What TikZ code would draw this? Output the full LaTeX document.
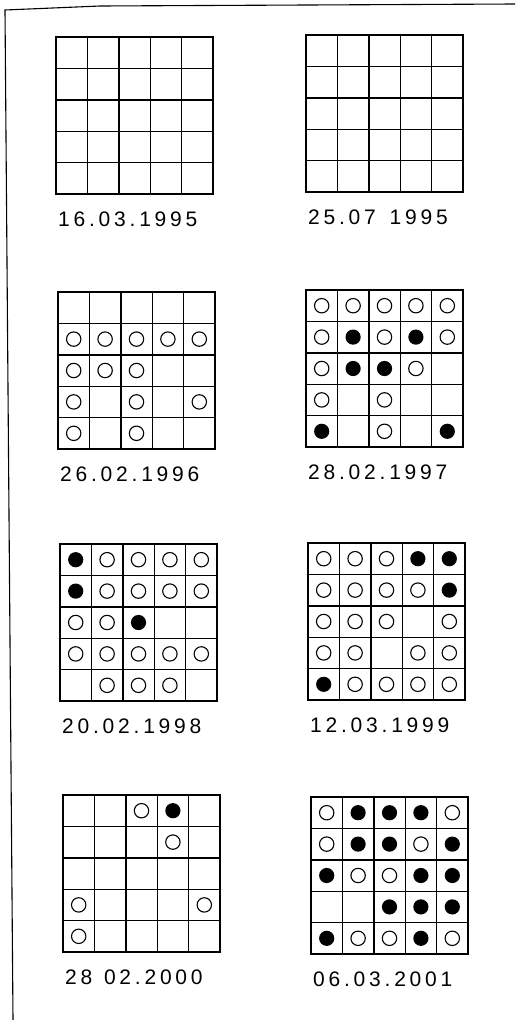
\documentclass[tikz,border=0pt]{standalone}
\usepackage{fontspec}
\setmainfont{Liberation Sans}
\newfontfamily\datefont[LetterSpace=18]{Liberation Sans}
\tikzset{
  gridline/.style={line width=1.4pt, line cap=rect},
  opencirc/.style={line width=1.1pt},
  fillcirc/.style={fill=black},
  datelabel/.style={anchor=west, inner sep=0pt, font=\datefont\fontsize{21}{23}\selectfont},
  border/.style={line width=1.1pt}
}
\newcommand\drawgrid[5]{%
  \begin{scope}[shift={(#1,#2)}]
    \foreach \i in {0,...,5} {
      \draw[gridline] (\i*31.4,0) -- (\i*31.4,157);
      \draw[gridline] (0,\i*31.4) -- (157,\i*31.4);
    }
    \foreach \row [count=\r] in {#4} {
      \foreach \v [count=\c] in \row {
        \ifnum\v=1 \draw[opencirc] ({(\c-0.5)*31.4},{(\r-0.5)*31.4}) circle[radius=7.2pt];\fi
        \ifnum\v=2 \fill[fillcirc] ({(\c-0.5)*31.4},{(\r-0.5)*31.4}) circle[radius=7.6pt];\fi
      }
    }
    \node[datelabel] (#5) at (2,182) {#3};
  \end{scope}
}
\begin{document}
\begin{tikzpicture}[x=1pt,y=-1pt]
\useasboundingbox (0,0) rectangle (515,1020);
\draw[border] (13,1020) -- (5,10) -- (100,6) -- (515,4);
\drawgrid{56}{37}{16.03.1995}{0}{d1}
\drawgrid{306}{35}{25.07 \hspace{0.2em}1995}{0}{d2}
\drawgrid{58}{292}{26.02.1996}{{0,0,0,0,0},{1,1,1,1,1},{1,1,1,0,0},{1,0,1,0,1},{1,0,1,0,0}}{d3}
\drawgrid{306}{290}{28.02.1997}{{1,1,1,1,1},{1,2,1,2,1},{1,2,2,1,0},{1,0,1,0,0},{2,0,1,0,2}}{d4}
\drawgrid{60}{544}{20.02.1998}{{2,1,1,1,1},{2,1,1,1,1},{1,1,2,0,0},{1,1,1,1,1},{0,1,1,1,0}}{d5}
\drawgrid{308}{543}{12.03.1999}{{1,1,1,2,2},{1,1,1,1,2},{1,1,1,0,1},{1,1,0,1,1},{2,1,1,1,1}}{d6}
\drawgrid{63}{795}{28 \hspace{0.1em}02.2000}{{0,0,1,2,0},{0,0,0,1,0},{0,0,0,0,0},{1,0,0,0,1},{1,0,0,0,0}}{d7}
\drawgrid{311}{797}{06.03.2001}{{1,2,2,2,1},{1,2,2,1,2},{2,1,1,2,2},{0,0,2,2,2},{2,1,1,2,1}}{d8}
\end{tikzpicture}
\end{document}
